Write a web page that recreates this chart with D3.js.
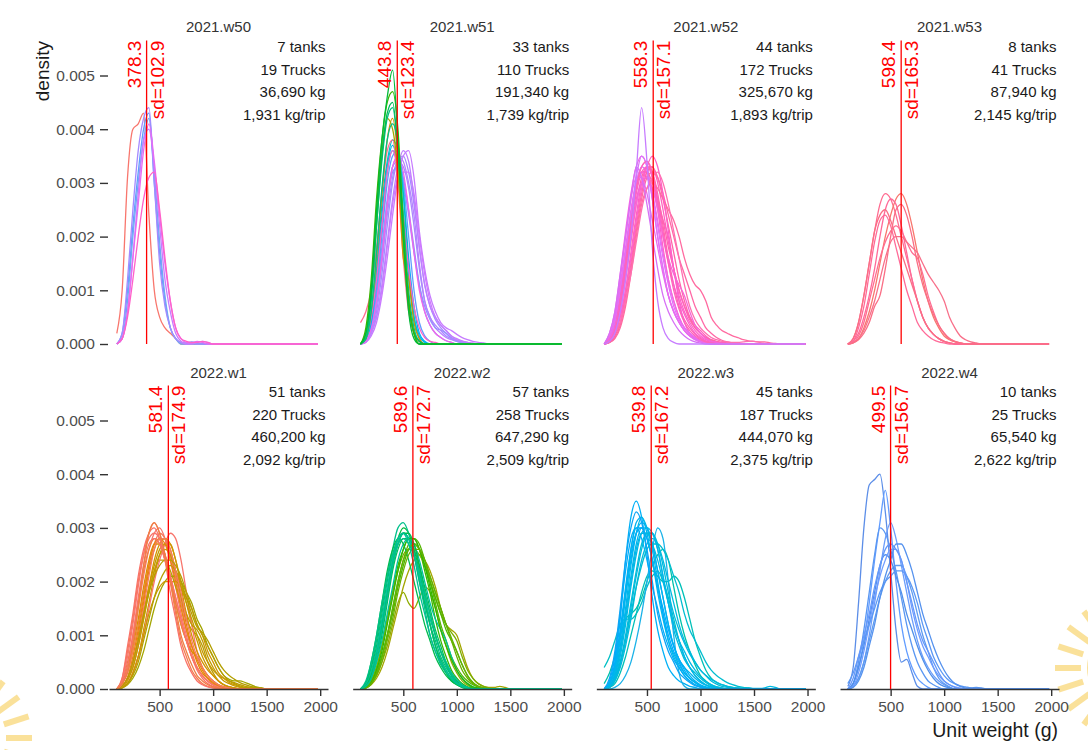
<!DOCTYPE html>
<html><head><meta charset="utf-8">
<script src="https://cdn.jsdelivr.net/npm/d3@7"></script>
<style>
body{margin:0;background:#fff}
svg{display:block}
text{font-family:"Liberation Sans",Arial,Helvetica,sans-serif}
</style>
</head><body>
<svg id="chart" width="1088" height="750"></svg>
<script>
// ---------------- DATA ----------------
const weeks = ["2021.w50","2021.w51","2021.w52","2021.w53","2022.w1","2022.w2","2022.w3","2022.w4"];
const means = [378.3, 443.8, 558.3, 598.4, 581.4, 589.6, 539.8, 499.5];
const sds = [102.9, 123.4, 157.1, 165.3, 174.9, 172.7, 167.2, 156.7];
const tanks = [7, 33, 44, 8, 51, 57, 45, 10];
const trucks = [19, 110, 172, 41, 220, 258, 187, 25];
const totalKg = [36690, 191340, 325670, 87940, 460200, 647290, 444070, 65540];
const kgPerTrip = [1931, 1739, 1893, 2145, 2092, 2509, 2375, 2622];
const yTicks = [0, 0.001, 0.002, 0.003, 0.004, 0.005];
const xTicks = [500, 1000, 1500, 2000];
// density curves: values in units of 1e-4, sampled every 50 g starting at 100 g (0 beyond the list, up to 1980 g)
const gridStart = 100, gridStep = 50, densityEnd = 1980, densityUnit = 1e-4;

const curvesW50 = [
 ["#F8766D",[2,10,31,40,41,43,24,10,5,3,2,1,0]],
 ["#619CFF",[0,2,10,22,32,40,43,30,17,8,3,1,0.3,0.2,0.4,0.2,0]],
 ["#6FA8F5",[0,1,8,20,30,38,42,32,19,9,3,1,0]],
 ["#A58AFF",[0,2,12,25,36,42,44,30,15,7,3,1,0.3,0,0.2,0]],
 ["#C77CFF",[0,1,6,16,28,38,40,33,22,12,6,2,0.5,0,0,0.3,0.5,0.3,0]],
 ["#E76BF3",[0,1,6,16,26,36,41,34,24,15,8,3,1,0.3,0.2,0.5,0.3,0]],
 ["#FF61C9",[0,1,5,12,20,27,31,32,25,16,8,3,1,0.5,0.3,0.3,0.5,0.3,0]]
];
const curvesW51 = [
 ["#B983FF",[0,0.5,3,8,16,26,33,35,34,30,24,15,8,5,3,2,1.2,0.8,0.5,0.3,0]],
 ["#A58AFF",[0,0.5,2,6,13,22,30,34,35,32,26,18,11,7,4.5,3,2,1.2,0.7,0.4,0.2,0]],
 ["#C77CFF",[0,0.3,1.5,4,9,16,24,31,35,36,31,21,14,9,6,4,3,2.5,1.8,1.2,0.8,0.5,0.3,0.2,0]],
 ["#9590FF",[0,1,4,10,18,27,33,34,30,24,17,11,7,4.5,3,2.6,2,1,0.5,0.2,0]],
 ["#D078FF",[0,0.5,2,5,10,18,26,31,32,32,28,20,13,8,5,3.5,2.5,1.5,0.8,0.5,0.3,0.2,0]],
 ["#AB88FF",[0,0.5,2.5,7,15,24,31,34,33,29,22,14,8,5,3.5,2.5,1.5,1,0.6,0.3,0]],
 ["#BF80FF",[0,0.3,2,5,11,19,27,33,36,34,27,18,11,7,5,3.5,2.5,1.5,1,0.6,0.3,0]],
 ["#8F91FF",[0,1,4,9,17,26,32,33,31,25,18,11,6,3.5,2,1.2,0.6,0.3,0]],
 ["#F066EA",[0,0.5,3,8,16,26,33,35,32,25,17,10,6,3.5,2,1.2,0.6,0.3,0]],
 ["#619CFF",[0,1,4,10,20,30,35,36,30,20,10,4,1.5,0.5,0]],
 ["#00B0F6",[0,1,4,12,22,32,36,34,28,16,7,2,0.5,0]],
 ["#00B5EC",[0,1,5,13,24,33,37,33,24,13,5,1.5,0.3,0]],
 ["#00BFC4",[0,1,5,14,26,34,38,36,28,14,5,1,0]],
 ["#FF61C3",[0,1,5,12,22,32,36,32,24,14,7,3,1.2,0.5,0.3,0]],
 ["#FF6C91",[4,6,10,18,28,36,38,30,16,6,2,0.5,0]],
 ["#D39200",[0,1,6,16,28,38,42,34,16,12,4,1,0]],
 ["#A3A500",[0,2,10,24,36,42,40,32,18,7,2,0.5,0]],
 ["#00C08B",[0,1,6,17,29,38,41,37,24,10,3,0.5,0]],
 ["#00BF7D",[0,1,8,22,34,42,44,36,21,8,2,0]],
 ["#00BC59",[0,2,9,22,35,43,45,36,20,8,2,0.5,0]],
 ["#39B600",[0,3,12,27,38,45,47,40,22,8,2,0]],
 ["#00BA38",[0,2,10,25,38,46,51,38,20,6,1,0]]
];
const curvesW52 = [
 ["#FF61C3",[0,1,4,10,17,24,30,33,34,31,25,18,12,8,5,3,1.8,1,0.6,0.3,0.2,0]],
 ["#FF64B0",[0,0.5,2,6,12,19,26,31,33,32,28,22,16,11,7,4.5,3,1.8,1,0.5,0.3,0.2,0]],
 ["#F564E3",[0,2,6,13,21,28,33,35,33,27,20,14,9,6,4,2.5,1.5,0.8,0.4,0.2,0]],
 ["#F962D0",[0,1,3,8,14,21,27,30,31,29,26,23,20,14,8,4,2,1,0.5,0.3,0.2,0]],
 ["#DB72FB",[0,0.5,3,8,16,24,31,35,33,27,20,14,9,6,4,2.5,1.5,0.8,0.5,0.3,0]],
 ["#FF65AE",[0,1,3.5,9,16,23,29,32,32,30,27,23,18,14,10,7,4.5,3,2,1.2,0.6,0.3,0]],
 ["#F368E6",[0,1.5,5,11,18,25,30,32,31,28,23,17,12,8,5,3,2,1.2,0.6,0.3,0]],
 ["#FF62BE",[0,0.5,2,5,10,17,24,30,33,33,30,25,19,14,10,7,5,3.5,2.5,1.5,0.8,0.4,0.2,0]],
 ["#E170F7",[0,1,4,10,17,24,30,33,32,28,22,16,11,7,4.5,3,2,1.2,0.6,0.3,0]],
 ["#FF68A6",[0,0.3,1.2,3.5,8,14,21,27,31,32,31,28,24,20,16,13,10,7,5,3,2,1.2,0.7,0.4,0.2,0]],
 ["#FB63C8",[0,0.8,3,8,15,22,28,32,33,31,26,20,15,11,8,5.5,3.5,2,1.2,0.6,0.3,0]],
 ["#FF66A8",[0,0.3,1.5,4,9,15,22,28,32,33,31,27,22,17,12,8,5,3,2,1.2,0.8,0.5,0.3,0.2,0.1,0]],
 ["#FF6AA0",[0,0.3,1,3,7,13,20,26,29,30,29,27,25,23,20,16,13,11,10,8,5,3.5,2.5,2,1.5,1.2,0.8,0.6,0.5,0.4,0.4,0.2,0.1,0]],
 ["#E86BF0",[0,1,5,12,20,27,31,31,28,23,18,13,9,6,4,2.5,1.5,1,0.5,0.3,0.1,0]],
 ["#FF61C9",[0,0.5,2,5,10,16,23,29,33,35,33,28,21,14,9,6,4,2.5,1.5,0.8,0.5,0.3,0.2,0.1,0]],
 ["#F766D8",[0,1,3,7,13,20,26,30,31,29,25,20,16,13,11,9,6,3.5,2,1,0.5,0.3,0]],
 ["#FF70B0",[0,0.5,2,4,8,13,19,25,29,31,32,30,26,21,16,11,7,4.5,3,2,1.2,0.8,0.5,0.4,0.3,0.3,0.4,0.5,0.5,0.3,0.1,0]],
 ["#D770F5",[0,2,6,13,20,27,33,31,26,20,14,9,6,4,2.5,1.5,0.8,0.4,0.2,0]],
 ["#FF63BA",[0,0.5,2.5,7,14,22,29,33,34,32,27,21,15,10,6.5,4,2.5,1.5,0.8,0.4,0.2,0]],
 ["#C77CFF",[0,0.5,2,6,12,20,32,44,34,18,8,3,1,0.3,0]]
];
const curvesW53 = [
 ["#FF6C91",[0,1,4,9,15,21,26,28,27,24,20,16,12,8,5,3,1.8,1,0.5,0.2,0]],
 ["#F8766D",[0,0.3,1,3,6,10,15,20,24,27,28,26,22,17,12,8,5,3,1.5,0.8,0.4,0.2,0]],
 ["#FF6A98",[0,0.5,2,5,9,14,20,25,27,26,22,17,12,8,5,3,1.8,1,0.5,0.2,0]],
 ["#FA6E85",[0,1,4,9,15,21,24,25,23,20,17,14,11,8,5,3,1.8,1,0.5,0.2,0]],
 ["#FF6C91",[0,0.3,1.5,4,8,12,16,19,21,22,21,19,17,16,13,9,6,3.5,2,1,0.5,0.2,0]],
 ["#F8708A",[0,0.2,1,2.5,5,8,12,16,19,20,20,19,18,17,15,13,11.5,10,8,5,3,1.5,0.8,0.4,0.2,0]],
 ["#FF6A98",[0,0.5,3,7,13,19,23,24,22,18,14,10,7,4,2.5,1.5,0.8,0.4,0.2,0]],
 ["#FA6E85",[0,0.2,0.8,2,4,7,9,14,20,25,26,24,20,15,11,8,5.5,3.5,2,1,0.5,0.2,0]]
];
const curvesW1 = [
 ["#F8766D",[0,1,4,9,15,21,26,29,30,28,24,19,14,10,6,4,2.5,1.5,0.8,0.4,0.2,0]],
 ["#C99800",[0,0.3,1,3,6,11,16,21,25,27,27,24,20,16,12,9,6,4,2.5,1.5,0.8,0.4,0.2,0]],
 ["#F27D52",[0,2,7,13,20,25,29,31,29,25,20,14,9,6,3.5,2,1,0.5,0.2,0]],
 ["#BB9D00",[0,0.5,2,4,8,13,18,22,24,24,22,19,16,13,11,10,8,5,3,1.5,0.8,0.4,0.2,0]],
 ["#E58700",[0,0.5,2,5,10,16,22,26,28,28,26,22,17,12,8,5,3,2,1,0.5,0.3,0.2,0]],
 ["#A3A500",[0,0.2,0.8,2,4,7,11,15,18,20,21,21,20,18,16,13,11,8,6,4,2.5,1.8,1.5,1.5,1.2,0.8,0.4,0.2,0]],
 ["#F8766D",[0,0.3,1,3,6,10,15,20,24,27,29,28,24,18,12,7,4,2.5,1.5,0.8,0.4,0.2,0]],
 ["#C09B00",[0,0.5,2,5,9,14,19,23,26,27,25,21,17,14,12,11,9,6,4,2.5,2,1.5,1.2,0.8,0.5,0.3,0.2,0.1,0]],
 ["#F47A5D",[0,1,3,7,12,18,23,27,29,28,25,21,16,11,7,4,2.5,1.5,0.8,0.4,0.2,0]],
 ["#DB8E00",[0,1,4,8,13,19,24,27,27,25,21,16,12,9,7,6,4,2.5,1.5,0.8,0.4,0.2,0]],
 ["#CF9500",[0,0.3,1,3,6,10,14,17,19,20,20,20,19,17,15,12,10,7,5,3,2,1.2,0.8,0.4,0.2,0]],
 ["#FA7268",[0,2,8,14,21,26,29,30,28,24,18,13,8,5,3,1.5,0.8,0.4,0.2,0]],
 ["#B39F00",[0,0.2,1,2.5,5,9,13,17,20,22,23,22,20,17,14,11.5,10.5,9,7,5,3.5,2.5,1.8,1.2,0.8,0.5,0.3,0.2,0]],
 ["#EF8040",[0,1.5,5,10,16,22,26,28,27,24,20,16,12,9,6,4,2.5,1.5,0.8,0.3,0]],
 ["#D29300",[0,0.5,2,5,9,14,19,24,27,28,27,24,19,14,10,7,5,3.5,2.5,1.5,0.8,0.4,0.2,0]],
 ["#F8766D",[0,1.5,6,12,19,25,28,29,28,25,21,17,13,9,6,4,2.5,1.5,0.8,0.4,0.2,0]],
 ["#E88510",[0,0.5,2,6,11,17,23,27,28,27,24,20,15,11,8,5.5,3.5,2,1.2,0.6,0.3,0]],
 ["#C59900",[0,0.3,1.5,4,8,13,18,22,25,26,25,22,19,16,13,10,7,5,3.5,2.5,1.5,1,0.6,0.3,0.2,0]],
 ["#F67B60",[0,0.5,2,5,9,15,21,26,28,28,26,22,18,13,9,6,4,2.5,1.5,0.8,0.4,0.2,0]],
 ["#B69E00",[0,0.5,2,5,9,14,18,21,23,24,24,23,21,18,15,12,10,8,6,4,2.5,1.5,1,0.6,0.3,0.2,0]],
 ["#FA7367",[0,1,4,10,17,23,27,28,27,24,21,17,13,9,6,3.5,2,1,0.5,0.2,0]],
 ["#F07E45",[0,1,3,8,15,23,29,31,29,25,20,15,10,7,4.5,2.5,1.5,0.8,0.4,0.2,0]]
];
const curvesW2 = [
 ["#00BA38",[0,0.5,3,7,12,18,24,28,30,29,26,22,17,12,8,5,3,1.5,0.8,0.3,0]],
 ["#8EAB00",[0,0.2,1,2.5,5,8,12,16,18,16,15,17,19,18,15,11,8,5,3,1.5,0.7,0.3,0]],
 ["#00C08B",[0,1,4,9,15,21,26,30,31,29,25,20,15,10,7,4.5,3,1.8,1,0.5,0.2,0]],
 ["#39B600",[0,0.3,1.5,4,8,13,18,23,26,28,28,26,22,18,13,9,6,3.5,2,1,0.4,0.2,0]],
 ["#A3A500",[0,0.2,0.8,2,4,7,11,15,19,22,24,25,24,22,19,15,12,11,10,7,4,2,1,0.5,0.3,0.3,0.5,0.3,0]],
 ["#00BD5C",[0,0.5,2,5,10,16,22,26,28,28,26,23,19,15,11,8,5,3,1.5,0.8,0.3,0]],
 ["#53B400",[0,0.2,1,3,6,10,15,20,24,27,28,27,24,20,16,12,9,6,4,2.5,1.5,0.8,0.4,0.2,0]],
 ["#00BF7D",[0,1,3,7,12,18,23,27,29,28,25,20,16,12,9,6,4,2.5,1.2,0.6,0.3,0]],
 ["#7CAE00",[0,0.3,1.5,4,8,13,18,22,25,26,26,25,23,20,17,14,12,10.5,9,6,3.5,2,1,0.5,0.2,0]],
 ["#00C19F",[0,0.5,2,5,9,14,19,24,27,28,27,24,20,16,13,11,9,6,3.5,2,1,0.4,0.2,0]],
 ["#4CB500",[0,0.3,1,3,6,10,14,19,23,26,27,26,23,20,17,14,11,9,7,4.5,2.5,1.2,0.5,0.2,0]],
 ["#00BB4E",[0,1,5,10,16,22,26,28,27,24,20,16,12,9,6,4,2.5,1.5,0.8,0.3,0]],
 ["#6BB100",[0,0.2,1,2.5,5,9,13,18,22,25,26,26,24,21,18,15,12,9,6,3.5,2,1,0.5,0.2,0]],
 ["#00BE6C",[0,1,4,8,14,20,25,28,29,28,25,21,16,12,8,5.5,3.5,2,1,0.4,0]],
 ["#2FB700",[0,0.3,1.2,3.5,7,12,17,22,26,28,28,26,23,19,15,11,8,5.5,3.5,2,1,0.4,0.2,0]],
 ["#00C29A",[0,0.8,3,7,13,19,24,28,29,28,25,21,17,13,10,7,5,3,1.8,0.8,0.3,0]],
 ["#62B200",[0,0.2,1,3,6,10,15,20,24,26,27,26,24,21,18,15,12,9.5,7,4.5,2.5,1.2,0.5,0.2,0]],
 ["#00BC52",[0,0.5,2.5,6,11,17,23,27,29,29,27,23,18,14,10,7,4.5,2.5,1.2,0.5,0.2,0]],
 ["#00C088",[0,1.5,5,10,16,21,25,27,28,27,25,22,18,14,10,7,4.5,2.5,1.2,0.5,0.2,0]],
 ["#00C094",[0,0.5,2,6,11,17,23,27,29,27,23,18,14,10,7,5,3.5,2,1,0.5,0.2,0]]
];
const curvesW3 = [
 ["#00BFC4",[4,6,9,12,13,13,14,16,19,21,22,20,17,13,9,6,4,2.5,1.5,0.8,0.4,0.2,0]],
 ["#00C1AA",[1,3,6,10,13,14,15,17,20,23,25,26,24,19,14,10,7,4.5,2.5,1.5,0.8,0.4,0.2,0]],
 ["#00C0B8",[0,0.3,1,3,6,10,14,18,21,22,21,20,20,21,20,17,13,9,6,3.5,2,1.2,0.8,0.5,0.3,0.2,0]],
 ["#00B0F6",[0,1,5,13,24,32,35,32,25,17,11,7,4,2.5,1.5,1,0.5,0.3,0]],
 ["#00B8E7",[0,0.5,3,8,15,23,29,32,30,26,20,14,9,6,4,2.5,1.5,0.8,0.4,0.2,0]],
 ["#00A9FF",[0,1,4,10,18,25,29,30,28,24,19,14,10,7,5,3,2,1.2,0.6,0.3,0]],
 ["#00BCD8",[0,0.3,2,5,10,16,22,27,29,29,26,21,16,11,8,5.5,4,3,2,1.2,0.6,0.3,0]],
 ["#1AB2E8",[0,0,0.3,1,2.5,5,9,14,20,26,30,28,20,10,3,0.5,0]],
 ["#00B4EF",[0,0.5,2.5,7,14,21,27,30,30,27,22,17,12,8,5.5,4,3,2,1.2,0.7,0.4,0.2,0]],
 ["#00ADFA",[0,1.5,6,14,22,28,30,28,24,19,15,11,8,5.5,4,2.5,1.5,0.8,0.4,0.2,0]],
 ["#00BAE0",[0,0.3,1.5,4,8,13,19,24,27,28,27,24,20,16,12,9,7,5,3.5,2.5,1.8,1.3,0.8,0.5,0.3,0.2,0.2,0.2,0.1,0.1,0.2,0.5,0.3,0]],
 ["#00BDD0",[0,0.5,2,5,9,14,19,23,26,27,27,26,24,21,18,14,11,9,7,5,3.5,2.5,1.8,1.2,0.8,0.5,0.3,0.2,0]],
 ["#00B2F3",[0,0.8,3.5,9,17,24,29,31,30,27,22,17,12,8,5.5,4,2.5,1.5,0.8,0.4,0.2,0]],
 ["#00B6EA",[0,0.5,2,6,12,19,25,29,30,29,26,21,16,12,9,6,4,2.5,1.5,0.8,0.4,0.2,0]],
 ["#00AEF8",[0,1,4.5,11,19,26,30,30,28,24,19,15,11,8,5.5,3.5,2,1.2,0.6,0.3,0]],
 ["#00BADC",[0,0.3,1.5,4.5,9,15,21,26,29,29,27,23,18,14,11,8.5,6.5,5,3.5,2.5,1.5,0.9,0.5,0.3,0.2,0]],
 ["#00B4EE",[0,1,4,10,18,26,31,32,29,24,18,13,9,6.5,4.5,3,2,1.2,0.6,0.3,0]],
 ["#00B8E4",[0,0.5,2.5,7,13,20,26,29,29,27,24,20,16,12,9,7,5,3.5,2.3,1.4,0.8,0.4,0.2,0]],
 ["#0EA5F5",[0,2,7,15,24,30,33,31,26,20,14,10,7,5,3,2,1.2,0.6,0.3,0]]
];
const curvesW4 = [
 ["#5C8EE8",[0.5,4,16,30,38,39,40,33,22,11,5,5.5,3,0.5,0]],
 ["#619CFF",[0,1,4,9,16,24,31,37,30,20,12,7,4,2,1,0.3,0]],
 ["#5A97F2",[0,1,5,11,18,25,30,29,26,22,17,12,8,5,3,1.5,0.8,0.3,0]],
 ["#6B9DFA",[0,0.5,2,5,10,16,22,28,31,28,23,18,13,9,6,4,2.5,1.5,0.8,0.3,0]],
 ["#5E9BF0",[0,0.5,2,5,9,13,17,20,22,23,23,21,18,14,10,7,4,2,1,0.4,0]],
 ["#4F8FEA",[0,1,4,8,13,18,23,25,24,21,18,14,11,8,5.5,3.5,2,1,0.5,0.2,0]],
 ["#6F9CFF",[0,0.5,3,7,12,17,21,24,26,26,24,20,15,11,8,6,4,2.5,1.5,0.8,0.4,0.2,0]],
 ["#5B98F5",[1,3,6,9,12,15,18,20,21,22,22,21,19,16,12,9,6,4,2.5,1.5,1,0.6,0.4,0.2,0.1,0]],
 ["#6598FA",[0,2,6,10,14,19,23,26,27,26,24,20,16,12,9,7,5,3,1.5,0.8,0.3,0]],
 ["#5592EE",[0,0.3,1.5,4,8,12,17,21,24,27,27,25,22,18,14,11,8,5.5,3.5,2,1,0.5,0.2,0.2,0.3,0.2,0]]
];
const curvesByWeek = [curvesW50, curvesW51, curvesW52, curvesW53, curvesW1, curvesW2, curvesW3, curvesW4];

// ---------------- LAYOUT ----------------
const xDomain = [27, 2073], yDomain = [0, 0.00565];
const panelW = 219, colLeft0 = 109, colStep = 243.67;
const rowBase = [344, 689], panelH = 303.4;
const FONT = '"Liberation Sans",Arial,Helvetica,sans-serif';

const svg = d3.select("#chart");
svg.append("rect").attr("width",1088).attr("height",750).attr("fill","#fff");

// faint background watermark (decorative sun, partly off-canvas)
function sun(cx, cy) {
  const w = svg.append("g").attr("opacity", 0.55);
  w.append("circle").attr("cx", cx).attr("cy", cy).attr("r", 34)
    .attr("fill", "none").attr("stroke", "#F7C948").attr("stroke-width", 8);
  d3.range(0, 360, 18).forEach(a => {
    const t = a * Math.PI / 180;
    w.append("line").attr("x1", cx + 44 * Math.cos(t)).attr("y1", cy + 44 * Math.sin(t))
      .attr("x2", cx + 70 * Math.cos(t)).attr("y2", cy + 70 * Math.sin(t))
      .attr("stroke", "#F7C948").attr("stroke-width", 6);
  });
}
sun(1125, 668);
sun(-38, 738);

const fmtInt = d3.format(",");

weeks.forEach((wk, i) => {
  const r = Math.floor(i / 4), c = i % 4;
  const left = colLeft0 + c * colStep, base = rowBase[r];
  const x = d3.scaleLinear().domain(xDomain).range([left, left + panelW]);
  const y = d3.scaleLinear().domain(yDomain).range([base, base - panelH]);
  const g = svg.append("g");

  const line = d3.line().x(d => x(d[0])).y(d => y(d[1])).curve(d3.curveMonotoneX);
  curvesByWeek[i].forEach(([col, vals]) => {
    const pts = vals.map((v, k) => [gridStart + k * gridStep, v * densityUnit]);
    pts.push([densityEnd, 0]);
    g.append("path").attr("d", line(pts)).attr("fill", "none")
      .attr("stroke", col).attr("stroke-width", 1.3).attr("stroke-linejoin","round");
  });

  // x axis (bottom row only)
  if (r === 1) {
    const ax = g.append("g").attr("transform", `translate(0,${base})`)
      .call(d3.axisBottom(x).tickValues(xTicks).tickFormat(d3.format("d")).tickSize(7).tickSizeOuter(0).tickPadding(5));
    ax.select(".domain").attr("stroke", "#333").attr("stroke-width", 1.4);
    ax.selectAll(".tick line").attr("stroke", "#333").attr("stroke-width", 1.4);
    ax.selectAll(".tick text").attr("fill", "#4d4d4d").style("font-size", "15.5px").style("font-family", FONT);
  }
  // y axis (first column only)
  if (c === 0) {
    const ay = g.append("g").attr("transform", `translate(${left - 1},0)`)
      .call(d3.axisLeft(y).tickValues(yTicks).tickFormat(d3.format(".3f")).tickSize(8).tickPadding(5));
    ay.select(".domain").remove();
    ay.selectAll(".tick line").attr("stroke", "#333").attr("stroke-width", 1.4);
    ay.selectAll(".tick text").attr("fill", "#4d4d4d").style("font-size", "15.5px").style("font-family", FONT);
  }

  // mean line
  const mx = x(means[i]);
  g.append("line").attr("x1", mx).attr("x2", mx).attr("y1", y(0)).attr("y2", y(yDomain[1]))
    .attr("stroke", "#FF0000").attr("stroke-width", 1.3);
  const topY = y(yDomain[1]);
  g.append("text").attr("transform", `translate(${mx - 6},${topY}) rotate(-90)`)
    .attr("text-anchor", "end").attr("fill", "#FF0000").style("font-size", "19px")
    .text(means[i].toFixed(1));
  g.append("text").attr("transform", `translate(${mx + 17},${topY}) rotate(-90)`)
    .attr("text-anchor", "end").attr("fill", "#FF0000").style("font-size", "19px")
    .text("sd=" + sds[i].toFixed(1));

  // strip title
  g.append("text").attr("x", left + panelW / 2).attr("y", base - (r === 0 ? 312 : 311))
    .attr("text-anchor", "middle").attr("fill", "#333").style("font-size", "15px").text(wk);

  // annotation lines
  const lines = [tanks[i] + " tanks", trucks[i] + " Trucks", fmtInt(totalKg[i]) + " kg", fmtInt(kgPerTrip[i]) + " kg/trip"];
  lines.forEach((t, k) => {
    g.append("text").attr("x", left + panelW - 2.5).attr("y", base - 292 + k * 22.6)
      .attr("text-anchor", "end").attr("fill", "#1a1a1a").style("font-size", "15px").text(t);
  });
});

// axis titles
svg.append("text").attr("transform", "translate(49,41) rotate(-90)").attr("text-anchor", "end")
  .attr("fill", "#1a1a1a").style("font-size", "19px").text("density");
svg.append("text").attr("x", 1058).attr("y", 737).attr("text-anchor", "end")
  .attr("fill", "#1a1a1a").style("font-size", "19.5px").text("Unit weight (g)");
</script>
</body></html>
